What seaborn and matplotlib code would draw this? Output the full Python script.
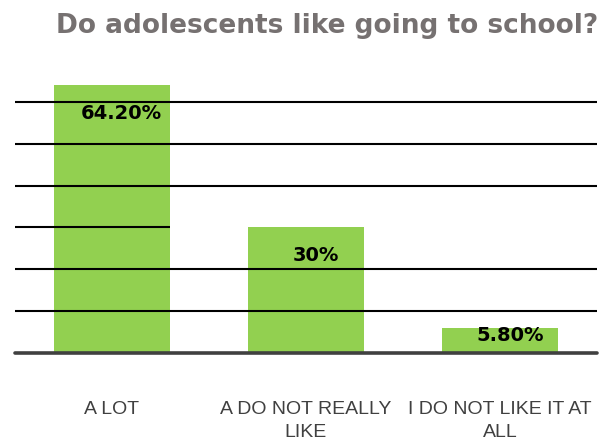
import matplotlib
matplotlib.use("Agg")
import matplotlib.pyplot as plt
import seaborn as sns
import pandas as pd

categories = ["A LOT", "A DO NOT REALLY\nLIKE", "I DO NOT LIKE IT AT\nALL"]
values = [64.2, 30.0, 5.8]
value_labels = ["64.20%", "30%", "5.80%"]
gridlines = [10, 20, 30, 40, 50, 60]

sns.set_theme(style="white")
plt.rcParams['font.family'] = ['DejaVu Sans']

df = pd.DataFrame({"cat": categories, "val": values})

fig = plt.figure(figsize=(6.15, 4.43), dpi=100)
ax = fig.add_axes([15/615, 90.5/443, 582/615, 292/443])

bw = 0.6
sns.barplot(data=df, x="cat", y="val", color="#92D050", width=bw,
            saturation=1, linewidth=0, ax=ax, zorder=1)

ax.set_xlim(-0.5, 2.5)
ax.set_ylim(0, 70)

for g in gridlines:
    if g == 30:
        ax.hlines(g, -0.5, 0 + bw/2, color="black", lw=1.5, zorder=3)
    else:
        ax.axhline(g, color="black", lw=1.5, zorder=3)

ax.axhline(0, color="#404040", lw=2.6, zorder=4, clip_on=False)

for i, (v, lab) in enumerate(zip(values, value_labels)):
    y = v - 6.8 if v > 10 else v * 0.7
    ax.text(i + 0.05, y, lab, ha="center", va="center", fontsize=14,
            fontweight="bold", color="black", zorder=5)

for s in ax.spines.values():
    s.set_visible(False)
ax.set_yticks([])
ax.set_xlabel("")
ax.set_ylabel("")
ax.tick_params(axis="x", length=0, pad=35)
for t in ax.get_xticklabels():
    t.set_fontfamily(["Liberation Sans Narrow", "Liberation Sans", "DejaVu Sans"])
    t.set_fontsize(14)
    t.set_color("#404040")
    t.set_linespacing(1.45)

fig.text(327/615, 1 - 26/443, "Do adolescents like going to school?",
         ha="center", va="center", fontsize=19, fontweight="bold",
         color="#767171")

fig.savefig("out.png", dpi=100)
